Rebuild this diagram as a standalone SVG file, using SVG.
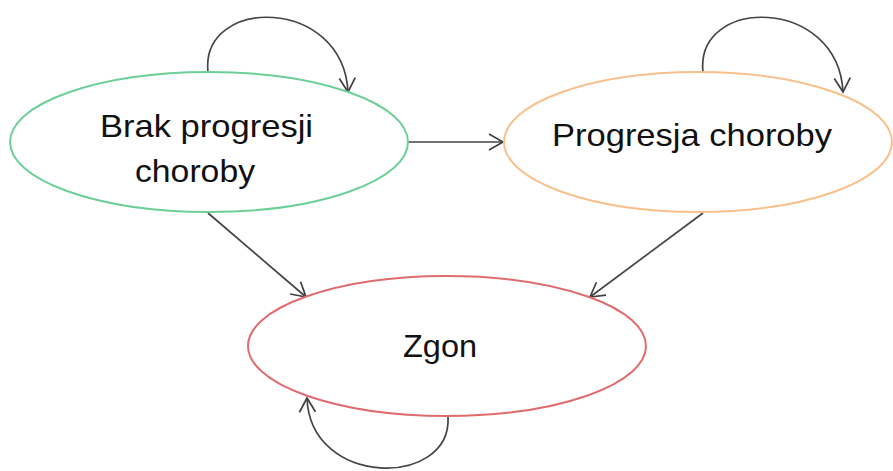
<svg xmlns="http://www.w3.org/2000/svg" width="893" height="471" viewBox="0 0 893 471">
<defs>
<marker id="arr" markerUnits="userSpaceOnUse" markerWidth="18" markerHeight="20" viewBox="0 0 18 20" refX="16" refY="10" orient="auto">
<path d="M2,2 L16,10 L2,18" fill="none" stroke="#404040" stroke-width="1.7"/>
</marker>
</defs>
<style>
.node{fill:#fff;stroke-width:2}
.lbl{font-family:"Liberation Sans",Arial,sans-serif;font-size:32px;fill:#111}
.edge{fill:none;stroke:#454545;stroke-width:1.7;marker-end:url(#arr)}
</style>
<rect width="893" height="471" fill="#fff"/>
<g id="connectors">
<path class="edge" d="M208,72 C200,-4 343,-4 348,92"/>
<path class="edge" d="M703,72 C695,-4 838,-4 843,92"/>
<path class="edge" d="M448,417 C452,488 310,488 307,398"/>
<path class="edge" d="M408,142 L503,142"/>
<path class="edge" d="M208,213 L306,297"/>
<path class="edge" d="M703,213 L590,297"/>
</g>
<g id="node-brak">
<ellipse class="node" cx="209" cy="142" rx="199" ry="70" stroke="#6ccf98"/>
<text class="lbl" x="100" y="137" textLength="213" lengthAdjust="spacingAndGlyphs">Brak progresji</text>
<text class="lbl" x="135" y="182" textLength="120" lengthAdjust="spacingAndGlyphs">choroby</text>
</g>
<g id="node-progresja">
<ellipse class="node" cx="698" cy="142" rx="194" ry="70" stroke="#f8c08c"/>
<text class="lbl" x="552" y="146" textLength="280" lengthAdjust="spacingAndGlyphs">Progresja choroby</text>
</g>
<g id="node-zgon">
<ellipse class="node" cx="447" cy="346" rx="199" ry="70" stroke="#e06b6e"/>
<text class="lbl" x="403" y="357" textLength="74" lengthAdjust="spacingAndGlyphs">Zgon</text>
</g>
</svg>
